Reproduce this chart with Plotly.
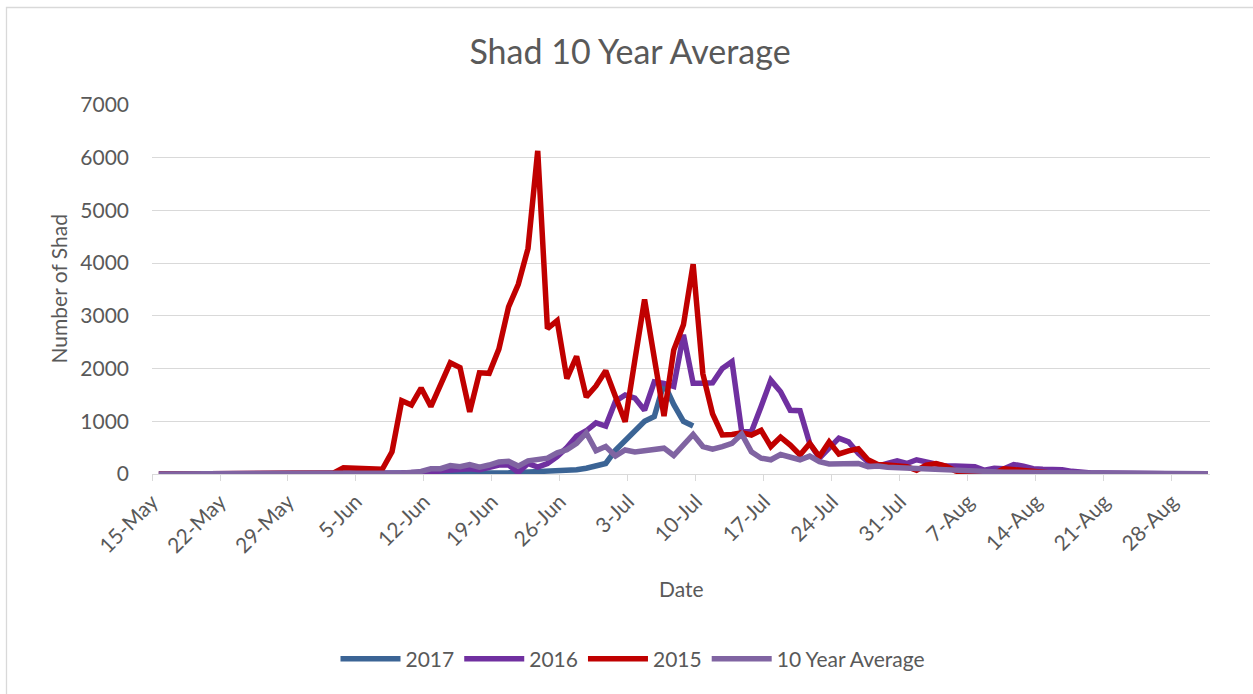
import pandas as pd
import plotly.graph_objects as go

# Daily dates, 15-May to 31-Aug
dates = pd.date_range("2017-05-15", "2017-08-31", freq="D")

y2017 = [0] * 29 + [10, 15, 15, 20, 20, 20, 25, 25, 30, 35, 50, 50, 45, 55, 80, 110, 150, 200,
                    450, 640, 830, 1000, 1090, 1720, 1320, 1000, 910]

y2016 = [0] * 22 + [10, 10, 20, 20, 30, 20,
                    30, 60, 80, 100, 100, 80, 120, 170, 170, 30, 200, 130, 200, 330, 500, 720,
                    820, 970, 910, 1380, 1500, 1440, 1210, 1750, 1720, 1660, 2640, 1720, 1720, 1730,
                    2000, 2130, 800, 800, 1280, 1780, 1560, 1210, 1200, 580, 300, 490, 680, 610,
                    390, 230, 150, 200, 250, 200, 270, 230, 200, 150, 150, 150, 140, 70, 110, 100,
                    180, 150, 100, 90, 90, 80, 50, 30, 20, 20, 15, 20, 25, 20, 10, 5] + [0] * 5

y2015 = [0] * 18 + [20, 120, 110, 100, 95, 90, 420, 1390, 1310, 1630, 1280, 1700, 2110, 2020,
                    1180, 1920, 1910, 2370, 3170, 3600, 4280, 6130, 2760, 2910, 1810, 2230, 1460,
                    1670, 1960, 1470, 990, 2160, 3310, 2200, 1100, 2350, 2830, 3980, 1900, 1140,
                    740, 750, 780, 740, 830, 520, 700, 550, 360, 580, 330, 610, 380, 440, 480, 270,
                    180, 170, 150, 140, 70, 170, 200, 150, 60, 0, 0, 0, 10, 100, 80, 70, 40, 20,
                    10] + [0] * 16

y_avg = [0] * 21 + [5, 10, 10, 15, 20, 30, 50,
                    100, 100, 160, 140, 180, 130, 170, 230, 240, 150, 250, 270, 300, 400, 460, 580,
                    780, 440, 520, 340, 455, 420, 440, 470, 490, 350, 540, 750, 520, 470, 520, 580,
                    760, 420, 300, 270, 370, 330, 270, 340, 235, 190, 190, 215, 200, 140, 150, 130,
                    120, 110, 100, 90, 85, 75, 65, 60, 50, 45, 40, 35, 35, 30, 30, 28, 25, 25, 22,
                    20, 20, 18, 15, 15, 12, 12, 10, 10, 8, 6, 5, 4, 3]

series = [
    ("2017", y2017, "#3b6495"),
    ("2016", y2016, "#7030a0"),
    ("2015", y2015, "#c00000"),
    ("10 Year Average", y_avg, "#8064a2"),
]

FONT = "Lato"
TXT = "#595959"
GRID = "#d9d9d9"

fig = go.Figure()
for name, vals, col in series:
    fig.add_trace(go.Scatter(
        x=dates[:len(vals)], y=vals, name=name, mode="lines",
        line=dict(color=col, width=5.5),
    ))

shift_l = pd.Timedelta(hours=17)
shift_r = pd.Timedelta(hours=5)
tick_dates = dates[::7]
tickvals = [d - shift_l for d in tick_dates]
ticktext = [f"{d.day}-{d.strftime('%b')}" for d in tick_dates]

W, H = 1253, 694
L, R, T, B = 152, 43, 105, 220
pw, ph = W - L - R, H - T - B


def px_x(px):
    return (px - L) / pw


def px_y(py):
    return (H - B - py) / ph


fig.update_layout(
    width=W, height=H, autosize=False,
    margin=dict(l=L, r=R, t=T, b=B),
    paper_bgcolor="white", plot_bgcolor="white",
    font=dict(family=FONT, color=TXT, size=20),
    title=dict(text="Shad 10 Year Average", x=630 / W, xanchor="center",
               y=1 - 52 / H, yanchor="middle", yref="container",
               font=dict(family=FONT, size=34, color=TXT)),
    showlegend=True,
    legend=dict(orientation="h", x=px_x(633), xanchor="center", y=px_y(659), yanchor="middle",
                itemwidth=60,
                font=dict(family=FONT, size=21, color=TXT), bgcolor="rgba(0,0,0,0)"),
    xaxis=dict(type="date", range=[dates[0] - shift_l, dates[-1] + shift_r],
               tickmode="array", tickvals=tickvals, ticktext=ticktext, tickangle=-45,
               tickfont=dict(family=FONT, size=21, color=TXT),
               showgrid=False, zeroline=False, showline=True, linecolor=GRID, linewidth=1.3,
               ticks="outside", ticklen=6, tickcolor=GRID, tickwidth=1.3),
    yaxis=dict(range=[0, 7000], dtick=1000, tick0=0, showgrid=True, gridcolor=GRID, gridwidth=1.3,
               zeroline=False, showline=False, ticks="", ticklabelstandoff=22,
               tickfont=dict(family=FONT, size=21, color=TXT)),
    annotations=[
        dict(text="Number of Shad", x=px_x(58), y=0.5, xref="paper", yref="paper",
             textangle=-90, showarrow=False, xanchor="center", yanchor="middle",
             font=dict(family=FONT, size=21, color=TXT)),
        dict(text="Date", x=0.5, y=px_y(588), xref="paper", yref="paper",
             showarrow=False, xanchor="center", yanchor="middle",
             font=dict(family=FONT, size=21, color=TXT)),
    ],
    shapes=[
        dict(type="rect", xref="paper", yref="paper",
             x0=px_x(6.5), x1=px_x(1256), y0=px_y(697), y1=px_y(7.5),
             line=dict(color=GRID, width=1.3), fillcolor="rgba(0,0,0,0)", layer="below"),
    ],
)

fig.write_html("out.html", config={"displayModeBar": False},
               post_script="document.body.style.margin='0px';")
